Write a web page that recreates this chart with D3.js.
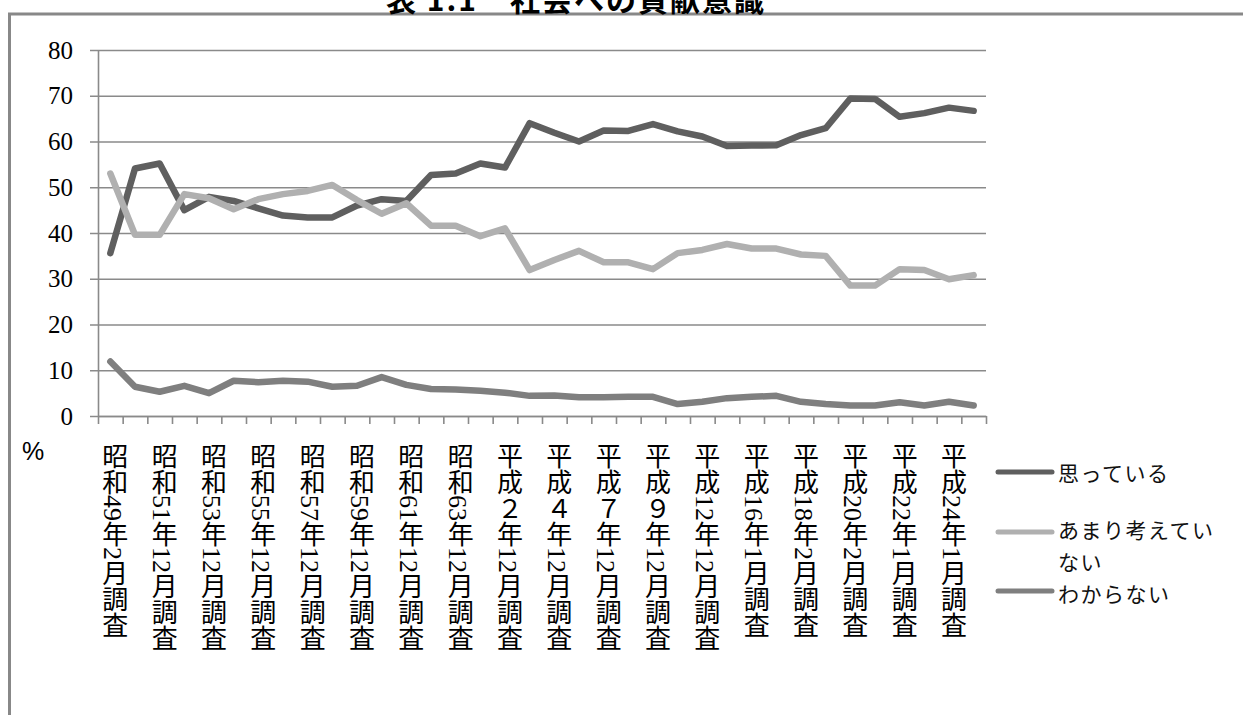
<!DOCTYPE html>
<html lang="ja">
<head>
<meta charset="utf-8">
<script src="https://cdn.jsdelivr.net/npm/d3@7"></script>
<style>
  html, body { margin: 0; padding: 0; background: #fff; }
  svg { display: block; }
  .cat { writing-mode: vertical-rl; text-orientation: mixed; }
</style>
</head>
<body>
<svg id="chart" width="1243" height="715"></svg>
<script>
// Survey rounds (every other one is labelled on the axis)
const categories = [
  "昭和49年2月調査", "昭和50年12月調査", "昭和51年12月調査", "昭和52年12月調査",
  "昭和53年12月調査", "昭和54年12月調査", "昭和55年12月調査", "昭和56年12月調査",
  "昭和57年12月調査", "昭和58年12月調査", "昭和59年12月調査", "昭和60年12月調査",
  "昭和61年12月調査", "昭和62年12月調査", "昭和63年12月調査", "平成元年12月調査",
  "平成２年12月調査", "平成３年12月調査", "平成４年12月調査", "平成５年12月調査",
  "平成７年12月調査", "平成８年12月調査", "平成９年12月調査", "平成10年12月調査",
  "平成12年12月調査", "平成14年12月調査", "平成16年1月調査", "平成17年2月調査",
  "平成18年2月調査", "平成19年1月調査", "平成20年2月調査", "平成21年1月調査",
  "平成22年1月調査", "平成23年1月調査", "平成24年1月調査", "平成25年1月調査"
];

const seriesNames = ["思っている", "あまり考えていない", "わからない"];

// 思っている (%)
const thinking = [
  35.6, 54.1, 55.2, 45.0, 47.9, 47.0, 45.4, 43.8, 43.4, 43.4, 46.0, 47.4,
  47.0, 52.7, 53.0, 55.2, 54.3, 64.0, 61.9, 60.0, 62.4, 62.3, 63.8, 62.2,
  61.1, 59.0, 59.1, 59.2, 61.4, 62.9, 69.4, 69.3, 65.4, 66.2, 67.4, 66.7
];
// あまり考えていない (%)
const notMuch = [
  53.0, 39.6, 39.6, 48.5, 47.6, 45.2, 47.4, 48.5, 49.2, 50.5, 47.2, 44.2,
  46.5, 41.6, 41.6, 39.3, 41.0, 31.9, 34.1, 36.1, 33.6, 33.6, 32.1, 35.6,
  36.3, 37.6, 36.6, 36.6, 35.3, 35.0, 28.5, 28.5, 32.1, 31.9, 29.9, 30.8
];
// わからない (%)
const unknown = [
  11.9, 6.4, 5.3, 6.6, 5.0, 7.7, 7.4, 7.7, 7.5, 6.4, 6.6, 8.5,
  6.8, 5.9, 5.8, 5.5, 5.1, 4.4, 4.5, 4.1, 4.1, 4.2, 4.2, 2.6,
  3.1, 3.9, 4.2, 4.4, 3.1, 2.6, 2.3, 2.3, 3.0, 2.3, 3.1, 2.3
];

const yTicks = [0, 10, 20, 30, 40, 50, 60, 70, 80];

const title = "表 1.1　社会への貢献意識";
const unitLabel = "%";

const colors = ["#5f5f5f", "#b0b0b0", "#7f7f7f"];
const seriesValues = [thinking, notMuch, unknown];

const svg = d3.select("#chart");

const plot = { left: 98, right: 986, top: 50, bottom: 416 };

const x = d3.scaleBand()
  .domain(d3.range(categories.length))
  .range([plot.left, plot.right])
  .paddingInner(0).paddingOuter(0);

// boundaries between survey columns, for the tick marks
const xEdges = d3.scaleLinear()
  .domain([0, categories.length])
  .range([plot.left, plot.right]);

const y = d3.scaleLinear().domain([0, 80]).range([plot.bottom, plot.top]);

// outer frame
svg.append("rect")
  .attr("x", 9.5).attr("y", 14)
  .attr("width", 1400).attr("height", 900)
  .attr("fill", "none")
  .attr("stroke", "#888")
  .attr("stroke-width", 3);

// title (sits on the frame's top edge)
svg.append("text")
  .attr("x", 386).attr("y", 11)
  .attr("font-family", "'Noto Sans CJK JP', sans-serif")
  .attr("font-weight", 700)
  .attr("font-size", 30)
  .attr("letter-spacing", 2)
  .attr("fill", "#000")
  .text(title);

// horizontal gridlines, starting a tick's length left of the axis
const gridG = svg.append("g")
  .attr("transform", `translate(${plot.left - 8},0)`)
  .call(d3.axisRight(y).tickValues(yTicks).tickSize(plot.right - plot.left + 8).tickFormat(""));
gridG.select(".domain").remove();
gridG.selectAll(".tick line").attr("stroke", "#8a8a8a").attr("stroke-width", 1.6);

// y tick labels
const yLab = svg.append("g")
  .attr("transform", `translate(${plot.left - 8},0)`)
  .call(d3.axisLeft(y).tickValues(yTicks).tickSize(0).tickPadding(17));
yLab.select(".domain").remove();
yLab.selectAll(".tick text")
  .attr("font-family", "'Liberation Serif', serif")
  .attr("font-size", 25)
  .attr("fill", "#000");

// vertical axis line
const yAxisLine = svg.append("g")
  .attr("transform", `translate(${plot.left},0)`)
  .call(d3.axisLeft(y).tickValues([]).tickSizeOuter(0));
yAxisLine.select(".domain").attr("stroke", "#8a8a8a").attr("stroke-width", 1.6);

// x axis with tick marks between columns
const xAxisG = svg.append("g")
  .attr("transform", `translate(0,${plot.bottom})`)
  .call(d3.axisBottom(xEdges).tickValues(d3.range(categories.length + 1)).tickSize(8).tickSizeOuter(0).tickFormat(""));
xAxisG.select(".domain").attr("stroke", "#8a8a8a").attr("stroke-width", 1.6);
xAxisG.selectAll(".tick line").attr("stroke", "#8a8a8a").attr("stroke-width", 1.6);

// category labels, written vertically, every other round
const xLab = svg.append("g")
  .attr("transform", `translate(0,${plot.bottom})`)
  .call(d3.axisBottom(x)
    .tickValues(d3.range(0, categories.length, 2))
    .tickSize(0).tickPadding(27)
    .tickFormat(i => categories[i]));
xLab.select(".domain").remove();
xLab.selectAll(".tick text")
  .attr("class", "cat")
  .attr("dy", null)
  .attr("x", 2)
  .attr("text-anchor", "start")
  .attr("font-family", "'Liberation Serif', 'Noto Sans CJK JP', serif")
  .attr("font-size", 26)
  .attr("fill", "#000");

// unit label
svg.append("text")
  .attr("x", 22).attr("y", 460)
  .attr("font-family", "'Liberation Sans', sans-serif")
  .attr("font-size", 25)
  .attr("fill", "#000")
  .text(unitLabel);

// series lines
const line = d3.line()
  .x((d, i) => x(i) + x.bandwidth() / 2)
  .y(d => y(d));

svg.append("g").selectAll("path")
  .data(seriesValues)
  .join("path")
  .attr("d", d => line(d))
  .attr("fill", "none")
  .attr("stroke", (d, i) => colors[i])
  .attr("stroke-width", 6.5)
  .attr("stroke-linejoin", "round")
  .attr("stroke-linecap", "round");

// legend: swatch line, then the label (wrapped onto a second line when long)
const legendRows = [
  { y: 472, lines: [["思っている", 472]] },
  { y: 532, lines: [["あまり考えてい", 529], ["ない", 561]] },
  { y: 591, lines: [["わからない", 593]] }
];
const legend = svg.append("g");
legendRows.forEach((row, i) => {
  legend.append("line")
    .attr("x1", 998).attr("x2", 1052)
    .attr("y1", row.y).attr("y2", row.y)
    .attr("stroke", colors[i])
    .attr("stroke-width", 5)
    .attr("stroke-linecap", "round");
  row.lines.forEach(([s, ty]) => {
    legend.append("text")
      .attr("x", 1058).attr("y", ty)
      .attr("font-family", "'Noto Sans CJK JP', sans-serif")
      .attr("font-size", 21)
      .attr("letter-spacing", 1.5)
      .attr("fill", "#111")
      .attr("dominant-baseline", "central")
      .text(s);
  });
});
</script>
</body>
</html>
